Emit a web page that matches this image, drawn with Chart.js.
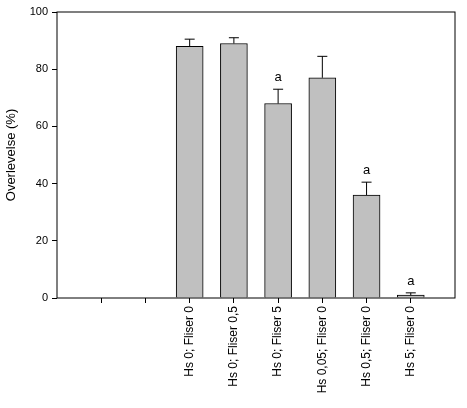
<!DOCTYPE html>
<html>
<head>
<meta charset="utf-8">
<script src="https://cdn.jsdelivr.net/npm/chart.js@4"></script>
<style>body{margin:0;background:#fff}</style>
</head>
<body>
<canvas id="chart" width="467" height="408"></canvas>
<script>
// slot labels, first two slots are empty
const groups = ["", "", "Hs 0; Fliser 0", "Hs 0; Fliser 0,5", "Hs 0; Fliser 5", "Hs 0,05; Fliser 0", "Hs 0,5; Fliser 0", "Hs 5; Fliser 0"];
const survival = [null, null, 88, 89, 68, 77, 36, 1];
const errors = [null, null, 2.5, 2, 5, 7.5, 4.5, 0.8];
const marks = ["", "", "", "", "a", "", "a", "a"];
const yTicks = [0, 20, 40, 60, 80, 100];

const points = [];
survival.forEach(function (v, i) {
  if (v !== null) points.push({ x: i + 1, y: v });
});

// error bars, "a" letters and the frame
const extras = {
  id: "extras",
  afterDatasetsDraw(chart) {
    const c = chart.ctx;
    const xs = chart.scales.x, ys = chart.scales.y;
    c.save();
    c.strokeStyle = "#000";
    c.lineWidth = 1;
    survival.forEach(function (v, i) {
      if (v === null) return;
      const px = xs.getPixelForValue(i + 1);
      const top = ys.getPixelForValue(v + errors[i]);
      c.beginPath();
      c.moveTo(px, ys.getPixelForValue(v));
      c.lineTo(px, top);
      c.moveTo(px - 5, top);
      c.lineTo(px + 5, top);
      c.stroke();
      if (marks[i]) {
        c.fillStyle = "#000";
        c.font = "13px Arial, 'Liberation Sans'";
        c.textAlign = "center";
        c.textBaseline = "bottom";
        c.fillText(marks[i], px, top - 5);
      }
    });
    const a = chart.chartArea;
    c.strokeRect(a.left, a.top, a.right - a.left, a.bottom - a.top);
    c.restore();
  }
};

new Chart(document.getElementById("chart"), {
  type: "bar",
  data: {
    datasets: [{
      data: points,
      backgroundColor: "#c0c0c0",
      borderColor: "#000",
      borderWidth: 1,
      barThickness: 27
    }]
  },
  options: {
    responsive: false,
    animation: false,
    layout: { padding: { top: 12, right: 12 } },
    plugins: { legend: { display: false }, tooltip: { enabled: false } },
    scales: {
      x: {
        type: "linear",
        offset: false,
        min: 0,
        max: 9,
        afterFit(s) { s.height = 110; },
        afterBuildTicks(s) {
          s.ticks = groups.map(function (g, i) { return { value: i + 1 }; });
        },
        border: { display: false },
        grid: { offset: false, drawOnChartArea: false, drawTicks: true, tickLength: 5, color: "#000" },
        ticks: {
          autoSkip: false,
          minRotation: 90,
          maxRotation: 90,
          color: "#000",
          font: { family: "Arial, 'Liberation Sans'", size: 12 },
          callback(v) { return groups[v - 1] || ""; }
        }
      },
      y: {
        min: 0,
        max: 100,
        afterFit(s) { s.width = 57; },
        afterBuildTicks(s) {
          s.ticks = yTicks.map(function (t) { return { value: t }; });
        },
        border: { display: false },
        grid: { drawOnChartArea: false, drawTicks: true, tickLength: 5, color: "#000" },
        title: {
          display: true,
          text: "Overlevelse (%)",
          color: "#000",
          font: { family: "Arial, 'Liberation Sans'", size: 13 }
        },
        ticks: {
          color: "#000",
          padding: 4,
          font: { family: "Arial, 'Liberation Sans'", size: 11 }
        }
      }
    }
  },
  plugins: [extras]
});
</script>
</body>
</html>
